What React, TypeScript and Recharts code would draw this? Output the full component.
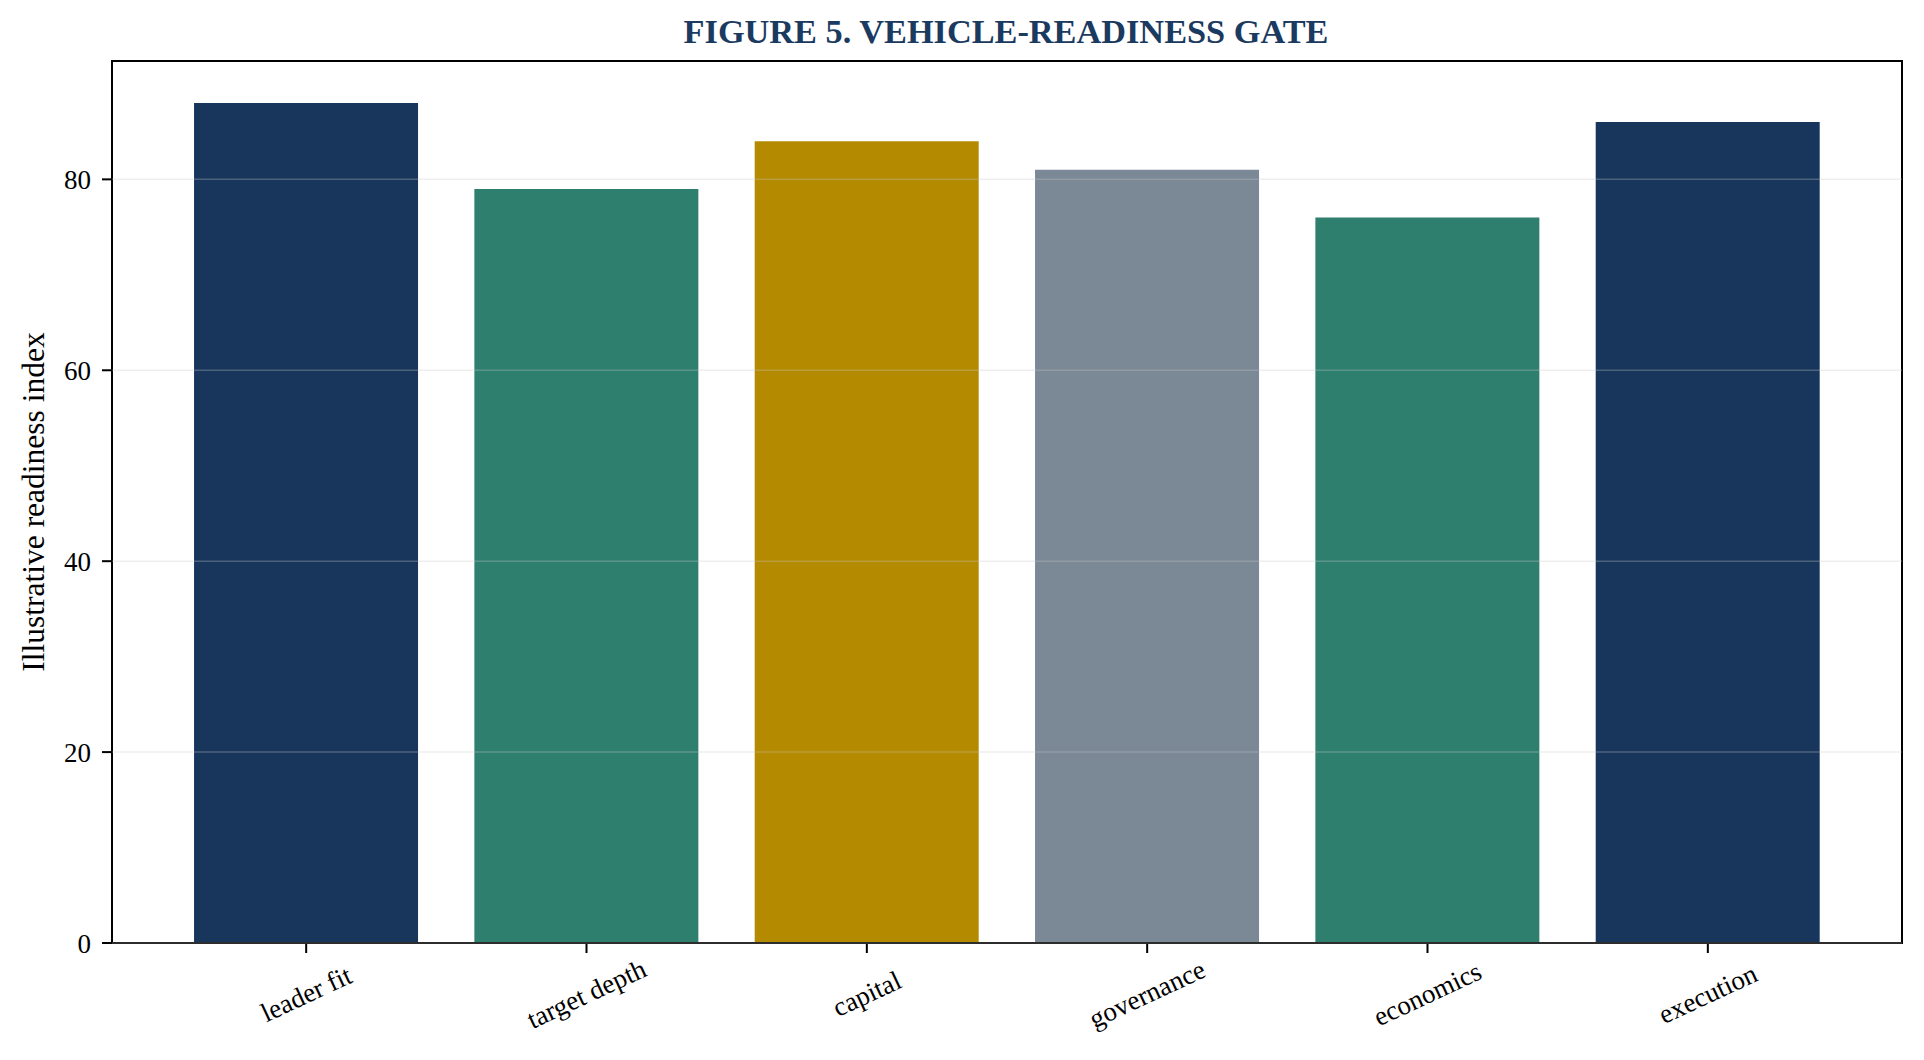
import React from "react";
import { BarChart, Bar, XAxis, YAxis, CartesianGrid, Cell, usePlotArea } from "recharts";

const categories = ["leader fit", "target depth", "capital", "governance", "economics", "execution"];
const readiness = [88, 79, 84, 81, 76, 86];
const barColors = ["#18365c", "#2f7f6f", "#b48a00", "#7b8896", "#2f7f6f", "#18365c"];
const yTicks = [0, 20, 40, 60, 80];

const data = categories.map((name, i) => ({ name, value: readiness[i] }));
const yMax = Math.max(...readiness) * 1.05;

const FONT = "'Liberation Serif', 'Times New Roman', serif";

const XTick = (props: any) => {
  const { x, y, payload } = props;
  return (
    <g transform={`translate(${x},${y + 41}) rotate(-25)`}>
      <text textAnchor="middle" dominantBaseline="central" fontFamily={FONT} fontSize={27} fill="#000">
        {payload.value}
      </text>
    </g>
  );
};

// axes box (top + right spines)
const Frame = () => {
  const area = usePlotArea ? usePlotArea() : null;
  if (!area) return null;
  return (
    <rect x={area.x} y={area.y} width={area.width} height={area.height} fill="none" stroke="#000" strokeWidth={2} />
  );
};

export default function App() {
  return (
    <div style={{ position: "fixed", left: 0, top: 0, width: 1924, height: 1060, background: "#fff" }}>
      <svg width={1924} height={1060} style={{ position: "absolute", left: 0, top: 0, pointerEvents: "none" }}>
        <text x={1006} y={43} textAnchor="middle" fontFamily={FONT} fontWeight="bold" fontSize={34.3} fill="#1b3a5f">
          FIGURE 5. VEHICLE-READINESS GATE
        </text>
        <text
          transform="translate(44,502) rotate(-90)"
          textAnchor="middle"
          fontFamily={FONT}
          fontSize={31.5}
          fill="#000"
        >
          Illustrative readiness index
        </text>
      </svg>
      <div style={{ position: "absolute", left: 0, top: 0 }}>
        <BarChart
          width={1924}
          height={1060}
          data={data}
          margin={{ top: 61, right: 22, bottom: 0, left: 0 }}
          barCategoryGap="10%"
        >
          <XAxis
            dataKey="name"
            height={117}
            padding={{ left: 54, right: 54 }}
            tickSize={10}
            tickMargin={0}
            tickLine={{ stroke: "#000", strokeWidth: 2 }}
            axisLine={{ stroke: "#000", strokeWidth: 2 }}
            tick={<XTick />}
            interval={0}
          />
          <YAxis
            width={112}
            domain={[0, yMax]}
            ticks={yTicks}
            tickSize={10}
            tickMargin={11}
            tickLine={{ stroke: "#000", strokeWidth: 2 }}
            axisLine={{ stroke: "#000", strokeWidth: 2 }}
            tick={{ fontFamily: FONT, fontSize: 27, fill: "#000" }}
          />
          <Bar dataKey="value" isAnimationActive={false}>
            {data.map((d, i) => (
              <Cell key={d.name} fill={barColors[i]} />
            ))}
          </Bar>
          <CartesianGrid
            vertical={false}
            horizontalValues={yTicks}
            stroke="#c8c8c8"
            strokeOpacity={0.3}
            strokeWidth={1.5}
            {...({ zIndex: 600 } as any)}
          />
          <Frame />
        </BarChart>
      </div>
    </div>
  );
}
